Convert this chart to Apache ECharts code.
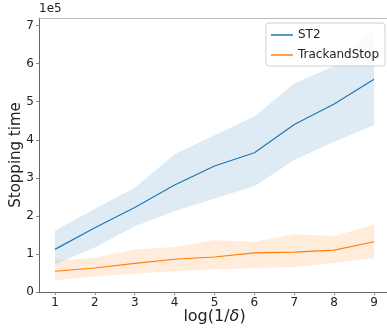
<!DOCTYPE html>
<html><head><meta charset="utf-8">
<script src="https://cdn.jsdelivr.net/npm/echarts@6/dist/echarts.min.js"></script>
<style>html,body{margin:0;padding:0;background:#fff}#c{width:387px;height:328px}</style>
</head><body><div id="c"></div>
<script>
// x values: log(1/delta)
const xs = [1, 2, 3, 4, 5, 6, 7, 8, 9];
// values in units of 1e5
const st2Mean  = [1.12, 1.69, 2.22, 2.81, 3.31, 3.66, 4.40, 4.94, 5.59];
const st2Upper = [1.61, 2.19, 2.74, 3.62, 4.12, 4.61, 5.48, 5.94, 6.89];
const st2Lower = [0.73, 1.17, 1.73, 2.12, 2.46, 2.78, 3.47, 3.95, 4.39];
const tasMean  = [0.545, 0.63, 0.75, 0.86, 0.92, 1.03, 1.05, 1.10, 1.32];
const tasUpper = [0.83, 0.90, 1.12, 1.18, 1.36, 1.32, 1.52, 1.47, 1.77];
const tasLower = [0.31, 0.41, 0.48, 0.55, 0.59, 0.63, 0.66, 0.76, 0.90];
const xTicks = [1, 2, 3, 4, 5, 6, 7, 8, 9];
const yTicks = [0, 1, 2, 3, 4, 5, 6, 7];

const pairs = (ys) => xs.map((x, i) => [x, ys[i]]);
const bandData = (lo, hi) => xs.map((x, i) => [x, lo[i], hi[i]]);
const font = 'DejaVu Sans';
const blue = '#1f77b4', orange = '#ff7f0e';

function bandRenderer(fill) {
  return function (params, api) {
    if (params.dataIndex !== 0) return null;
    const top = [], bot = [];
    for (let i = 0; i < xs.length; i++) {
      top.push(api.coord([api.value(0, i), api.value(2, i)]));
      bot.push(api.coord([api.value(0, i), api.value(1, i)]));
    }
    const pts = top.concat(bot.reverse());
    return {type: 'polygon', shape: {points: pts}, style: {fill: fill, stroke: null}, silent: true};
  };
}

const chart = echarts.init(document.getElementById('c'), null, {renderer: 'canvas'});
chart.setOption({
  animation: false,
  textStyle: {fontFamily: font},
  grid: {left: 39, top: 18, width: 351, height: 274, containLabel: false, outerBoundsMode: 'none'},
  xAxis: [{
    type: 'value', min: 0.6, max: 9.4,
    axisLine: {lineStyle: {color: '#666', width: 1}},
    axisTick: {customValues: xTicks, length: 3, lineStyle: {color: '#888'}},
    axisLabel: {customValues: xTicks, color: '#222', fontSize: 12, margin: 5, fontFamily: font},
    splitLine: {show: false},
    name: 'log(1/{i|δ})', nameLocation: 'middle', nameGap: 17, nameMoveOverlap: false,
    nameTextStyle: {fontSize: 16, color: '#222', fontFamily: font,
      rich: {i: {fontStyle: 'italic', fontSize: 16, fontFamily: font, color: '#222'}}}
  }, {
    type: 'value', min: 0.6, max: 9.4, position: 'top',
    axisLine: {show: true, lineStyle: {color: '#bbb', width: 1}},
    axisTick: {show: false}, axisLabel: {show: false}, splitLine: {show: false}
  }],
  yAxis: {
    type: 'value', min: 0, max: 7.2,
    axisLine: {show: true, lineStyle: {color: '#666', width: 1}},
    axisTick: {show: true, customValues: yTicks, length: 3, lineStyle: {color: '#888'}},
    axisLabel: {customValues: yTicks, color: '#222', fontSize: 12, margin: 5, fontFamily: font},
    splitLine: {show: false},
    name: 'Stopping time', nameLocation: 'middle', nameGap: 15, nameMoveOverlap: false,
    nameTextStyle: {fontSize: 15, color: '#222', fontFamily: font}
  },
  legend: {
    orient: 'vertical', right: 2, top: 23,
    data: ['ST2', 'TrackandStop'],
    icon: 'rect', itemWidth: 22, itemHeight: 1.5, itemGap: 8,
    padding: [6, 6, 5, 5],
    borderColor: '#d0d0d0', borderWidth: 1, borderRadius: 3,
    backgroundColor: 'rgba(255,255,255,0.8)',
    textStyle: {fontSize: 12, color: '#222', fontFamily: font}
  },
  graphic: [{
    type: 'text', left: 39, top: 3,
    style: {text: '1e5', fontSize: 12, fill: '#222', fontFamily: font}
  }],
  series: [
    {name: 'st2band', type: 'custom', xAxisIndex: 0, data: bandData(st2Lower, st2Upper),
     renderItem: bandRenderer('rgba(31,119,180,0.15)'), encode: {x: 0, y: [1, 2]}, silent: true, z: 1},
    {name: 'tasband', type: 'custom', xAxisIndex: 0, data: bandData(tasLower, tasUpper),
     renderItem: bandRenderer('rgba(255,127,14,0.15)'), encode: {x: 0, y: [1, 2]}, silent: true, z: 1},
    {name: 'ST2', type: 'line', data: pairs(st2Mean), symbol: 'none', color: blue,
     lineStyle: {color: blue, width: 1.2}, z: 5},
    {name: 'TrackandStop', type: 'line', data: pairs(tasMean), symbol: 'none', color: orange,
     lineStyle: {color: orange, width: 1.2}, z: 5}
  ]
});
</script></body></html>
